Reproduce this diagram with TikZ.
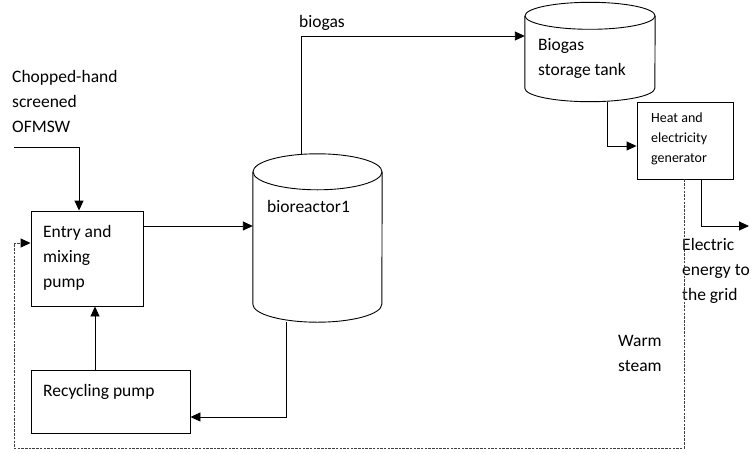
\documentclass[tikz,border=0pt]{standalone}
\usepackage{fontspec}
\setmainfont{Carlito}
\usetikzlibrary{arrows.meta}
\begin{document}
\begin{tikzpicture}[x=1pt,y=-1pt,
  box/.style={draw,line width=0.9pt,inner sep=0pt},
  hull/.style={inner sep=0pt},
  wire/.style={line width=0.9pt},
  arr/.style={wire,-{Triangle[length=10pt,width=9pt]}},
  steam/.style={wire,-{Triangle[length=10pt,width=9pt,fill=black,color=black]},draw=black!75,dash pattern=on 2.5pt off 1.2pt},
  txt/.style={inner sep=0pt,anchor=west,align=left,font=\fontsize{17.5}{25}\selectfont},
  small/.style={inner sep=0pt,anchor=west,align=left,font=\fontsize{14}{20}\selectfont}
]
\useasboundingbox (0,0) rectangle (751,452);

% process units
\node[box,minimum width=112pt,minimum height=95pt] (entry) at (87,258.5) {};
\node[box,minimum width=159pt,minimum height=63pt] (rec) at (110.5,401.5) {};
\node[box,minimum width=96pt,minimum height=77pt] (gen) at (685,140.5) {};
\node[hull,minimum width=129pt,minimum height=132pt] (bio) at (317.5,238) {};
\node[hull,minimum width=130pt,minimum height=72pt] (tank) at (590,52) {};

% cylinders: body outline plus the top ellipse
\foreach \c/\rx/\ry in {bio/64.5/18, tank/65/13.5}{
  \draw[wire] (\c.north west) -- (\c.south west)
    arc[start angle=180,end angle=360,x radius=\rx pt,y radius=\ry pt]
    -- (\c.north east);
  \draw[wire] (\c.north) ellipse[x radius=\rx pt,y radius=\ry pt];
}

% texts
\node[txt] (feed) at (12,101) {Chopped-hand\\screened\\OFMSW};
\node[txt] (entrytxt) at (43,258) {Entry and\\mixing\\pump};
\node[txt] (rectxt) at (43,392) {Recycling pump};
\node[txt] (biotxt) at (267,206) {bioreactor1};
\node[txt] (gas) at (299,23) {biogas};
\node[txt] (tanktxt) at (538,58) {Biogas\\storage tank};
\node[small] (gentxt) at (651,139) {Heat and\\electricity\\generator};
\node[txt] (elec) at (682,271) {Electric\\energy to\\the grid};
\node[txt] (warm) at (618,353) {Warm\\steam};

% free ends
\coordinate (in) at (14,147);
\coordinate (grid) at (749,226);
\coordinate (loop) at (14,448);

% connectors
\draw[arr] (in) -| ([xshift=-8pt]entry.north);
\draw[arr] ([yshift=32.5pt]entry.east) -- ([yshift=32.5pt]entry.east -| bio.west);
\draw[arr] ([xshift=-16.5pt,yshift=18pt]bio.north) |- ([yshift=16pt]tank.west);
\draw[arr] ([xshift=-31.5pt,yshift=-18pt]bio.south) |- ([yshift=-15.5pt]rec.east);
\draw[arr] ([xshift=-15.5pt]rec.north) -- ([xshift=-15.5pt]rec.north |- entry.south);
\draw[arr] ([xshift=17pt,yshift=-13.5pt]tank.south) |- ([yshift=-5.5pt]gen.west);
\draw[arr] ([xshift=16pt]gen.south) |- (grid);
\draw[steam] ([xshift=-1pt]gen.south) |- (loop) |- ([yshift=15.5pt]entry.west);
\end{tikzpicture}
\end{document}
